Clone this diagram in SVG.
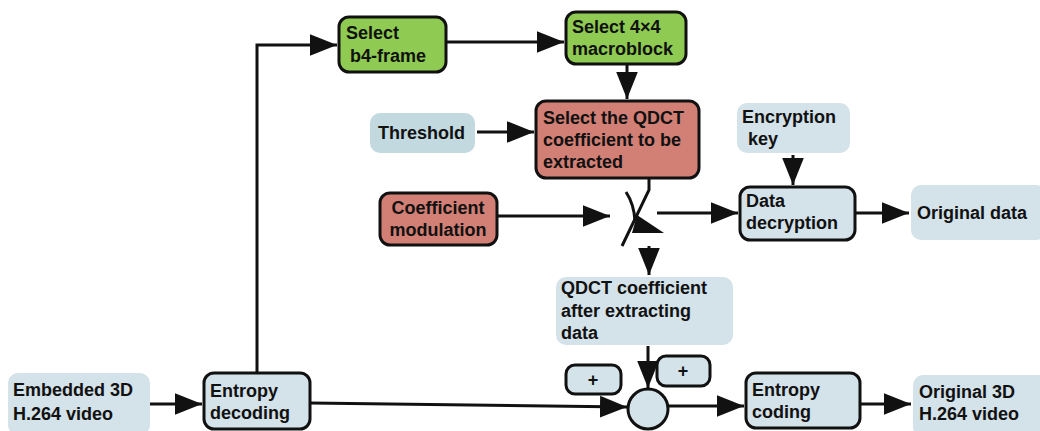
<svg xmlns="http://www.w3.org/2000/svg" width="1040" height="431" viewBox="0 0 1040 431">
<style>
text{font-family:"Liberation Sans",Arial,sans-serif;font-weight:bold;font-size:18px;fill:#111}
.g{fill:#8fcb52;stroke:#111;stroke-width:3}
.r{fill:#d27f75;stroke:#111;stroke-width:3}
.b{fill:#d4e2e9;stroke:#111;stroke-width:3}
.n{fill:#d4e2e9;stroke:none}
.t{fill:#c3d9e0;stroke:none}
.c line,.c path,.c polyline{stroke:#111;stroke-width:3;fill:none}
.c path.h{fill:#111;stroke:none}
</style>
<defs>
<marker id="A" viewBox="0 0 10 10" refX="10" refY="5" markerWidth="9" markerHeight="9" orient="auto">
<path d="M0,1 L10,5 L0,9 z" fill="#111"/>
</marker>
</defs>
<g class="c" id="connectors">
<polyline points="257,373 257,45 337,45" marker-end="url(#A)"/>
<line x1="446" y1="42" x2="564" y2="42" marker-end="url(#A)"/>
<line x1="627" y1="64" x2="627" y2="99" marker-end="url(#A)"/>
<line x1="477" y1="132" x2="534" y2="132" marker-end="url(#A)"/>
<line x1="793" y1="155" x2="793" y2="185" marker-end="url(#A)"/>
<line x1="497" y1="216" x2="610" y2="216" marker-end="url(#A)"/>
<polyline points="649,179 649,190 622,246"/>
<path d="M626,192 Q634,204 635,221"/>
<path class="h" d="M637,215 L664,233 L632,233 z"/>
<line x1="657" y1="213" x2="738" y2="213" marker-end="url(#A)"/>
<line x1="855" y1="213" x2="909" y2="213" marker-end="url(#A)"/>
<line x1="649" y1="246" x2="649" y2="275" marker-end="url(#A)"/>
<line x1="648" y1="346" x2="648" y2="388" marker-end="url(#A)"/>
<line x1="150" y1="404" x2="202" y2="404" marker-end="url(#A)"/>
<line x1="310" y1="403" x2="627" y2="407" marker-end="url(#A)"/>
<line x1="668" y1="406" x2="744" y2="406" marker-end="url(#A)"/>
<line x1="860" y1="404" x2="911" y2="404" marker-end="url(#A)"/>
</g>
<g id="select-b4-frame"><rect class="g" x="339" y="17" width="107" height="55" rx="10"/><text x="346" y="39">Select</text><text x="350" y="62">b4-frame</text></g>
<g id="select-macroblock"><rect class="g" x="566" y="12" width="120" height="52" rx="10"/><text x="572" y="33">Select 4×4</text><text x="572" y="55">macroblock</text></g>
<g id="select-qdct"><rect class="r" x="536" y="101" width="163" height="77" rx="10"/><text x="543" y="124">Select the QDCT</text><text x="543" y="146">coefficient to be</text><text x="543" y="168">extracted</text></g>
<g id="threshold"><rect class="t" x="370" y="113" width="105" height="40" rx="10"/><text x="378" y="139">Threshold</text></g>
<g id="encryption-key"><rect class="n" x="737" y="103" width="113" height="50" rx="10"/><text x="742" y="123">Encryption</text><text x="748" y="145">key</text></g>
<g id="data-decryption"><rect class="b" x="740" y="187" width="115" height="53" rx="10"/><text x="746" y="207">Data</text><text x="746" y="229">decryption</text></g>
<g id="original-data"><rect class="n" x="911" y="185" width="135" height="55" rx="10"/><text x="917" y="219">Original data</text></g>
<g id="coefficient-modulation"><rect class="r" x="380" y="193" width="117" height="52" rx="10"/><text x="438" y="214" text-anchor="middle">Coefficient</text><text x="438" y="236" text-anchor="middle">modulation</text></g>
<g id="qdct-after"><rect class="n" x="556" y="277" width="177" height="68" rx="10"/><text x="561" y="294">QDCT coefficient</text><text x="561" y="317">after extracting</text><text x="561" y="339">data</text></g>
<g id="embedded-video"><rect class="n" x="8" y="373" width="142" height="62" rx="10"/><text x="13" y="396">Embedded 3D</text><text x="13" y="420">H.264 video</text></g>
<g id="entropy-decoding"><rect class="b" x="204" y="373" width="106" height="56" rx="10"/><text x="210" y="397">Entropy</text><text x="210" y="419">decoding</text></g>
<g id="plus-1"><rect class="b" x="566" y="365" width="55" height="29" rx="9"/><text x="593" y="386" text-anchor="middle">+</text></g>
<g id="plus-2"><rect class="b" x="657" y="356" width="53" height="30" rx="9"/><text x="683" y="377" text-anchor="middle">+</text></g>
<g id="sum"><circle class="b" cx="648" cy="409" r="20"/></g>
<g id="entropy-coding"><rect class="b" x="746" y="373" width="114" height="55" rx="10"/><text x="752" y="396">Entropy</text><text x="752" y="418">coding</text></g>
<g id="original-video"><rect class="n" x="913" y="375" width="135" height="62" rx="10"/><text x="919" y="398">Original 3D</text><text x="919" y="420">H.264 video</text></g>
</svg>
